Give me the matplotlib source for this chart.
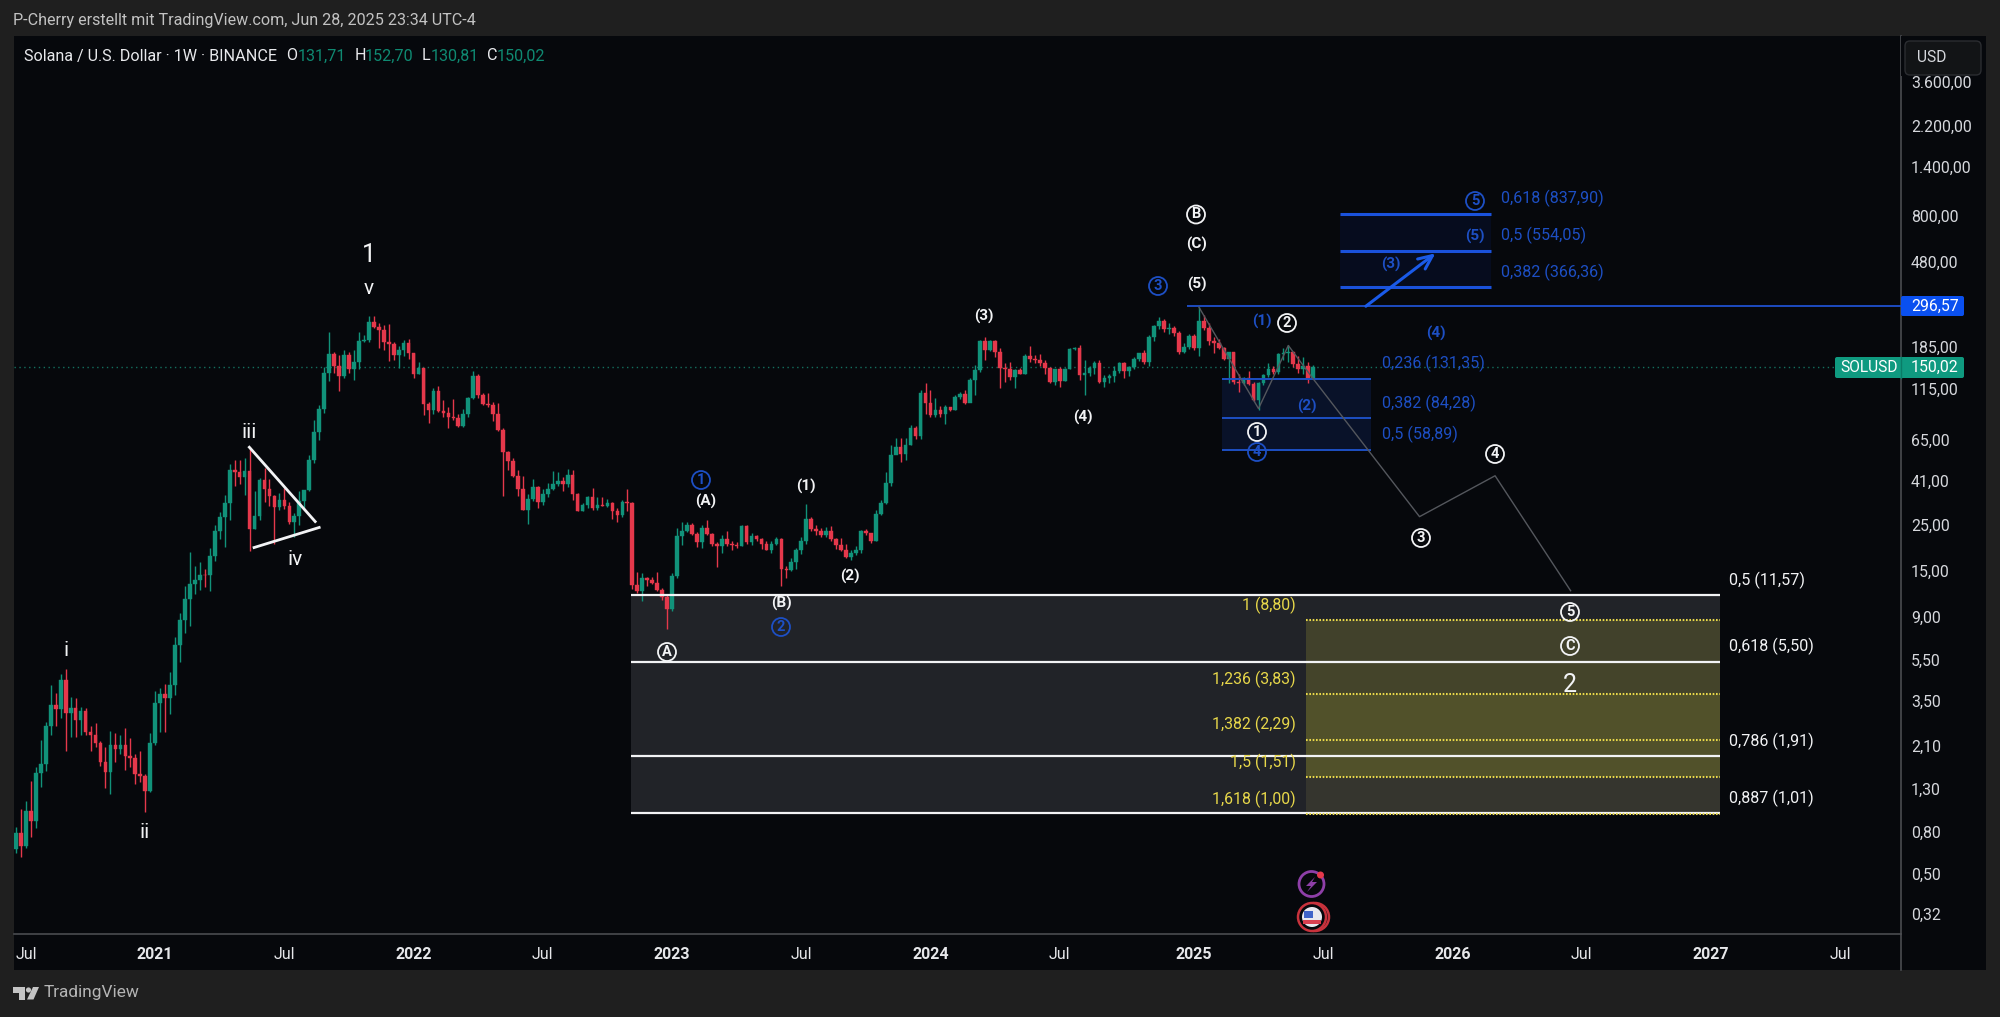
import numpy as np
import pandas as pd
import matplotlib
matplotlib.use("Agg")
import matplotlib.pyplot as plt
from matplotlib.patches import Circle, Rectangle, FancyBboxPatch, Polygon

plt.rcParams["font.family"] = "Roboto"
plt.rcParams["ytick.alignment"] = "center"

# weekly SOLUSD candles
first_week = "2020-06-22"
first_open = 0.671
close = [
    .807, .694, 1.03, .923, 1.58, 1.74, 2.68, 3.39, 3.25, 4.48,
    3.11, 3.28, 2.86, 3.18, 2.51, 2.43, 2.21, 1.78, 1.60, 2.16,
    2.06, 2.16, 1.91, 1.86, 1.57, 1.53, 1.29, 2.21, 3.47, 3.81,
    3.65, 4.26, 6.67, 8.76, 11.1, 13.2, 13.7, 14.6, 14.5, 18.1,
    23.8, 27.8, 32.5, 47.0, 46.2, 43.9, 46.6, 24.3, 28.3, 42.4,
    38.1, 35.2, 31.1, 33.8, 31.7, 26.4, 28.2, 33.5, 37.7, 53.1,
    72.5, 93.7, 140, 174, 152, 135, 172, 146, 158.6, 201,
    203, 249, 235, 227, 198, 194, 171, 182, 197, 175,
    138, 147.7, 99, 92.6, 115, 91.9, 89.7, 85.4, 84.3, 77,
    88.6, 106.5, 136, 109, 99, 98, 88.6, 74.3, 58, 52.4,
    44.3, 38, 30.1, 34, 39.2, 33.1, 36.3, 38.3, 40.6, 41.6,
    40.2, 44.5, 36, 29.8, 31.9, 34.8, 30.7, 31.9, 31.7, 32.8,
    29.8, 28.4, 33.1, 32.7, 13.0, 12.1, 14.0, 13.8, 13.3, 12.3,
    11.4, 9.9, 14.4, 22.6, 23.8, 25.4, 23, 21.1, 24.7, 23,
    20.6, 20.2, 21.8, 20.7, 20.3, 20.2, 25.2, 21.1, 22.5, 21.7,
    20.6, 19.3, 20.7, 21.8, 15.6, 15.4, 16.9, 19.3, 21.2, 27.4,
    24.4, 23.8, 22.8, 23.8, 21.7, 20.3, 19.2, 17.9, 18.7, 19.2,
    23.9, 23.2, 21.4, 28.8, 32.8, 40.9, 55.8, 61.5, 56.5, 62.4,
    75.3, 69.3, 111.6, 100.5, 87.5, 92.5, 89, 95.6, 93, 107.4,
    110.7, 100.5, 129.5, 144.6, 201.6, 181.4, 201.6, 178, 148.6, 147.5,
    134.3, 144.6, 139, 169, 164.6, 162.4, 157, 148.6, 127.3, 146,
    128, 146, 182.8, 185, 137, 140, 148.6, 157, 127.3, 132,
    135, 143.5, 157, 143.5, 150, 165, 174.7, 158, 210.6, 237,
    252, 231, 233, 220, 178, 188, 212, 185, 252, 233,
    201.6, 196, 186, 165, 178, 126.7, 126, 132, 124, 104,
    126, 137, 147.5, 142, 173, 176, 178, 156, 147.5, 152,
    131.71, 150.02,
]
high = [
    .861, 1.06, 1.16, 1.44, 1.69, 2.29, 2.80, 4.26, 3.86, 4.77,
    5.09, 3.70, 3.66, 3.32, 3.28, 2.68, 2.76, 2.26, 2.12, 2.53,
    2.47, 2.41, 2.61, 2.33, 1.95, 2.03, 1.57, 2.47, 3.94, 4.11,
    4.30, 4.88, 7.24, 9.46, 12.8, 18.8, 16.1, 16.9, 15.6, 19.6,
    25.4, 29.5, 35.8, 50.4, 53.1, 52.6, 53.8, 61, 37.4, 43.4,
    48.4, 42.9, 35.8, 36.6, 38.7, 32.9, 29.1, 37.4, 37.7, 56.1,
    82.5, 97.7, 150, 221, 178, 171, 182, 178, 182, 221,
    216, 266, 266, 246, 240, 244, 198, 190, 203, 205,
    176, 158, 148, 101.7, 119, 121, 104, 96, 105, 88.3,
    93.9, 107, 143, 138, 112, 112, 101.7, 100, 76, 58.6,
    53.8, 47.2, 44.3, 36.3, 42.9, 39.5, 38.3, 40.7, 46.9, 46.3,
    43.8, 48, 47.2, 36.5, 32.5, 35.4, 38.7, 35, 35, 34.3,
    33.1, 30.7, 33.7, 38.3, 33.1, 15, 14.9, 14.3, 14.3, 15,
    12.6, 11.6, 14.9, 24.7, 26.4, 26.4, 26, 23.6, 25.5, 26.9,
    23.3, 21, 22.8, 23.9, 21.2, 21.1, 25.5, 25.5, 23.3, 22.9,
    22, 21.2, 21.2, 22.2, 22, 16.1, 17.6, 19.8, 22.4, 32.2,
    28, 25.5, 24.7, 24.9, 25.2, 22, 22, 20.7, 19.2, 20.2,
    24.2, 24.4, 23.3, 30.1, 33.7, 46.3, 62.8, 67.4, 67.3, 67.3,
    78, 77, 115.8, 124.8, 115.8, 105.4, 97, 98, 96, 109,
    113, 115.8, 132, 153, 203, 209.7, 203, 203, 185, 157,
    158, 147, 149, 174, 190, 172, 174, 163, 150, 147,
    150, 148.6, 185, 188, 191, 162, 152, 161, 162, 137,
    139, 152, 159, 159, 152, 167, 176, 181, 215, 240,
    262, 256, 246, 237, 225, 196, 218, 218, 294, 268,
    245, 209, 205, 188, 178, 178, 139, 134, 143.5, 127,
    127, 139, 157, 152, 176, 185, 191, 178, 169, 167,
    158, 152.70,
]
low = [
    .643, .616, .68, .773, .85, 1.35, 1.62, 2.43, 2.68, 2.92,
    2.03, 2.36, 2.36, 2.41, 2.41, 2.03, 2.12, 1.71, 1.33, 1.25,
    1.78, 1.95, 1.63, 1.69, 1.39, 1.43, 1.02, 1.27, 2.16, 2.51,
    2.49, 3.05, 3.77, 5.5, 7.63, 8.2, 11.8, 12.3, 12.7, 12.1,
    17, 21.8, 19.9, 27.1, 39.4, 40.4, 35.8, 19, 24.3, 27.1,
    32.9, 31.4, 20.5, 30.1, 30.4, 25.8, 22.3, 25.4, 30.4, 37.4,
    50.9, 65.8, 89.8, 128, 141, 115, 132, 141, 130, 146,
    198, 198, 233, 186, 182, 160, 163, 148, 169, 164,
    132, 138, 87.5, 80.5, 89, 90.8, 85.9, 75.4, 83, 76.7,
    76.7, 86, 105, 106.5, 98, 95.5, 82, 73.2, 35.4, 47.2,
    43.8, 35.4, 30.1, 25.9, 33.4, 31, 31.9, 35, 37.7, 39.7,
    37.4, 39.2, 33.7, 29.8, 29.8, 30.7, 30.1, 30.1, 31.5, 31.3,
    27.4, 26.4, 28, 29.8, 12.4, 11.9, 10.9, 12.8, 13.2, 12.1,
    11, 7.9, 9.7, 14, 20.3, 23.6, 22.8, 19.9, 19.8, 22.8,
    20.2, 16, 18.7, 20.1, 19.3, 19.8, 20.1, 20.7, 20.3, 21.4,
    19.5, 19.2, 18.7, 20.3, 12.8, 14, 15.3, 15.5, 18.5, 20.7,
    23.8, 22.8, 22.2, 22.2, 21.4, 19.5, 19, 17.7, 17.2, 18.3,
    18.7, 22.8, 20.9, 21.4, 28.4, 32.2, 39.7, 57, 51.8, 53,
    62.4, 66.6, 66.6, 89, 85.9, 85.9, 85.9, 78.9, 91.8, 93,
    105, 99, 101.7, 109, 141.5, 162.4, 180, 167, 119, 127,
    130, 119, 138, 138, 158, 157, 152, 138, 126, 122,
    120, 128, 146, 181, 130, 109, 136, 139, 126, 120,
    124.8, 127, 141, 132, 135, 146, 161, 156, 152, 201.6,
    231, 222, 218, 212, 173, 175, 184, 181, 170, 228,
    191, 175, 184, 162, 126, 124, 113, 122, 122, 103,
    93, 122, 134, 139, 139, 162, 158, 150, 141, 139,
    126, 130.81,
]

# axis ticks
price_ticks = [3600, 2200, 1400, 800, 480, 185, 115, 65, 41, 25, 15, 9, 5.5, 3.5, 2.1, 1.3, .8, .5, .32]
time_dates = ["2020-07-06", "2021-01-04", "2021-07-05", "2022-01-03", "2022-07-04", "2023-01-02", "2023-07-03",
              "2024-01-01", "2024-07-01", "2025-01-06", "2025-07-07", "2026-01-05", "2026-07-06", "2027-01-04", "2027-07-05"]
time_labels = ["Jul", "2021", "Jul", "2022", "Jul", "2023", "Jul", "2024", "Jul", "2025", "Jul", "2026", "Jul", "2027", "Jul"]

# fib levels and drawings (week number, price)
white_levels = [11.57, 5.50, 1.91, 1.01]
yellow_levels = [8.80, 3.83, 2.29, 1.51, 1.00]
blue_up_levels = [837.90, 554.05, 366.36]
blue_down_levels = [131.35, 84.28, 58.89]
ath_level = 296.57
last_price = 150.02
path_weeks = [238, 250, 256, 261, 282.4, 297.6, 312.8]
path_prices = [294, 94.1, 191, 131.35, 28, 44.3, 12.2]
tri_top_weeks, tri_top_prices = [46.95, 60.2], [61, 26.5]
tri_low_weeks, tri_low_prices = [47.9, 61], [19.8, 24.8]

WHITE = "#f2f3f5"
BLUE = "#1d4fc4"
YELLOW = "#e8d84a"
GREEN = "#11927a"
RED = "#e5384b"
GRID_GREY = "#4a4c50"
BG = "#06080c"

PX_PER_WEEK = 4.97
FIRST_PX = 16

fig = plt.figure(figsize=(20, 10.17), dpi=100, facecolor="#1f1f1f")
fig.patches.append(Rectangle((14 / 2000, 1 - 970 / 1017), (1986 - 14) / 2000, (970 - 36) / 1017,
                             transform=fig.transFigure, fc=BG, ec="none", zorder=-5))

ax = fig.add_axes([14 / 2000, 1 - 934 / 1017, (1900.5 - 14) / 2000, (934 - 36) / 1017])
ax.set_facecolor(BG)
ax.set_yscale("log")
ax.set_xlim((14 - FIRST_PX) / PX_PER_WEEK, (1900.5 - FIRST_PX) / PX_PER_WEEK)
ax.set_ylim(0.2595, 6146)

# candles
close = np.array(close)
high = np.array(high)
low = np.array(low)
opn = np.r_[first_open, close[:-1]]
weeks = np.arange(len(close))
up = close >= opn
colors = np.where(up, GREEN, RED)
ax.vlines(weeks, low, high, colors=colors, lw=1.0, zorder=3)
ax.bar(weeks, np.abs(close - opn), bottom=np.minimum(close, opn), width=0.74, color=colors,
       edgecolor=colors, linewidth=0.3, zorder=3)

ax.axhline(last_price, color="#14705f", lw=1, ls=(0, (1, 2.5)), zorder=2)

# white fib box with the yellow one on top
wl, wr = 123.7, 342.9
yl = 259.5
ax.fill_between([wl, wr], white_levels[-1], white_levels[0], color="#212328", lw=0, zorder=1)
for top, bot, c in zip(yellow_levels[:-1], yellow_levels[1:], ["#41412b", "#51512a", "#51512a", "#35352e"]):
    ax.fill_between([yl, wr], bot, top, color=c, lw=0, zorder=1.5)
ax.fill_between([yl, wr], 3.83, 5.50, color="#44442a", lw=0, zorder=1.6)
ax.hlines(white_levels, wl, wr, color=WHITE, lw=1.6, zorder=4)
ax.hlines(yellow_levels, yl, wr, color=YELLOW, lw=1.5, ls=(0, (0.8, 0.8)), zorder=4)

# blue fib boxes
ul, ur = 266.4, 296.8
dl, dr = 242.7, 272.7
ax.fill_between([ul, ur], blue_up_levels[-1], blue_up_levels[0], color="#060c1e", lw=0, zorder=1)
ax.fill_between([dl, dr], blue_down_levels[-1], blue_down_levels[0], color="#091229", lw=0, zorder=1)
ax.hlines(blue_up_levels, ul, ur, color="#1a52dc", lw=2.2, zorder=4)
ax.hlines(blue_down_levels, dl, dr, color="#1d4fc4", lw=1.4, zorder=4)
ax.hlines(ath_level, 235.6, ax.get_xlim()[1], color="#1d4bc0", lw=1.4, zorder=4)
ax.annotate("", xy=(285.6, 537), xytext=(271.6, ath_level), zorder=5,
            arrowprops=dict(arrowstyle="->,head_length=1.0,head_width=0.45", color="#1a5ae8", lw=2.2,
                            shrinkA=0, shrinkB=0))

# projected path and triangle
ax.plot(path_weeks, path_prices, color="#54575d", lw=1.0, zorder=4)
ax.plot(tri_top_weeks, tri_top_prices, color=WHITE, lw=2.0, zorder=5)
ax.plot(tri_low_weeks, tri_low_prices, color=WHITE, lw=2.0, zorder=5)

# axes
start = pd.Timestamp(first_week)
time_ticks = [(pd.Timestamp(d) - start).days / 7 for d in time_dates]
ax.set_xticks(time_ticks)
ax.set_xticklabels(time_labels)
for lab in ax.get_xticklabels():
    if lab.get_text() != "Jul":
        lab.set_fontweight("bold")
ax.tick_params(axis="x", length=0, pad=9.5, colors="#e6e7ea", labelsize=11.5)
ax.minorticks_off()
ax.yaxis.tick_right()
ax.set_yticks(price_ticks)
ax.set_yticklabels([f"{v:,.2f}".replace(",", "X").replace(".", ",").replace("X", ".") for v in price_ticks])
ax.tick_params(axis="y", which="both", length=0, pad=7.5, colors="#d6d8dd", labelsize=11.4)
ax.yaxis.set_minor_locator(matplotlib.ticker.NullLocator())
for side in ["left", "top"]:
    ax.spines[side].set_visible(False)
for side in ["right", "bottom"]:
    ax.spines[side].set_color(GRID_GREY)
    ax.spines[side].set_linewidth(1.2)

# overlay in pixels for labels and tags
ov = fig.add_axes([0, 0, 1, 1], zorder=10)
ov.set_xlim(0, 2000)
ov.set_ylim(1017, 0)
ov.axis("off")
ov.plot([1900.5, 1900.5], [934, 970], color=GRID_GREY, lw=1.2)


def label(x, y, s, color=WHITE, size=10, ha="center", weight="normal"):
    ov.text(x, y, s, color=color, fontsize=size, ha=ha, va="center", fontweight=weight)


def circled(x, y, s, color=WHITE):
    ov.add_patch(Circle((x, y), 9, fc="none", ec=color, lw=1.3))
    ov.text(x, y, s, color=color, fontsize=10.5, ha="center", va="center", fontweight="bold")


label(13, 20, "P-Cherry erstellt mit TradingView.com, Jun 28, 2025 23:34 UTC-4", "#c2c2c2", 11.6, "left")
label(23.5, 56, "Solana / U.S. Dollar · 1W · BINANCE", "#e8e9ec", 11.6, "left")
for x, s in [(286.5, "O"), (354.5, "H"), (421.5, "L"), (487, "C")]:
    label(x, 56, s, "#e8e9ec", 11.6, "left")
for x, s in [(298, "131,71"), (365, "152,70"), (431, "130,81"), (497, "150,02")]:
    label(x, 56, s, "#0f8a72", 11.6, "left")

# wave labels
for x, y, s, sz in [(369, 255, "1", 18), (369, 289, "v", 15), (66, 651, "i", 15), (145, 833, "ii", 15),
                    (249, 432, "iii", 15), (295, 559.5, "iv", 15), (1570, 685, "2", 18)]:
    label(x, y, s, WHITE, sz)
for x, y, s in [(706, 501, "(A)"), (806, 486, "(1)"), (850, 576, "(2)"), (781, 603, "(B)"), (984, 316, "(3)"),
                (1083, 417, "(4)"), (1197, 284, "(5)"), (1197, 244, "(C)")]:
    label(x, y, s, WHITE, 11, weight="bold")
for x, y, s in [(1262, 321, "(1)"), (1307, 406, "(2)"), (1391, 264, "(3)"), (1475, 236, "(5)"), (1436, 333, "(4)")]:
    label(x, y, s, BLUE, 11, weight="bold")
for x, y, s in [(667, 652, "A"), (1196, 214.5, "B"), (1287, 323, "2"), (1257, 432, "1"), (1495, 454, "4"),
                (1421, 538, "3"), (1570, 612, "5"), (1570, 646, "C")]:
    circled(x, y, s)
for x, y, s in [(701, 480, "1"), (781, 627, "2"), (1158, 286, "3"), (1257, 452, "4"), (1475, 201, "5")]:
    circled(x, y, s, BLUE)

# fib labels
for y, s in [(198, "0,618 (837,90)"), (235, "0,5 (554,05)"), (272, "0,382 (366,36)")]:
    label(1501, y, s, BLUE, 11.6, "left")
for y, s in [(363, "0,236 (131,35)"), (403, "0,382 (84,28)"), (434, "0,5 (58,89)")]:
    label(1382, y, s, BLUE, 11.6, "left")
for y, s in [(580, "0,5 (11,57)"), (646, "0,618 (5,50)"), (741, "0,786 (1,91)"), (798, "0,887 (1,01)")]:
    label(1729, y, s, WHITE, 11.6, "left")
for y, s in [(605, "1 (8,80)"), (679, "1,236 (3,83)"), (724, "1,382 (2,29)"), (762, "1,5 (1,51)"), (799, "1,618 (1,00)")]:
    label(1296, y, s, YELLOW, 11.4, "right")

# price tags
ov.add_patch(FancyBboxPatch((1901, 296), 63, 20, boxstyle="round,pad=0,rounding_size=2", fc="#0a50f0", ec="none"))
label(1911, 306, "296,57", "#ffffff", 11.4, "left")
ov.add_patch(FancyBboxPatch((1835, 357), 129, 21, boxstyle="round,pad=0,rounding_size=2", fc="#0f9a80", ec="none"))
ov.plot([1900.5, 1900.5], [357, 378], color="#0a7c67", lw=1)
label(1840, 367.5, "SOLUSD", "#ffffff", 11.2, "left")
label(1911, 367.5, "150,02", "#ffffff", 11.4, "left")

# USD button
ov.add_patch(Rectangle((1901, 36), 85, 40, fc=BG, ec="none"))
ov.add_patch(FancyBboxPatch((1905, 41), 76, 34, boxstyle="round,pad=0,rounding_size=5", fc="#121416", ec="#2b2d31", lw=1))
label(1917, 57, "USD", "#d6d8dd", 11.2, "left")

# event icons
ov.add_patch(Circle((1311.5, 884), 12.5, fc="none", ec="#8e3fa8", lw=2))
ov.add_patch(Polygon([(1315, 877), (1306, 886), (1311, 886), (1307, 892), (1317, 882), (1312, 882)], fc="#8e3fa8", ec="none"))
ov.add_patch(Circle((1320.5, 875), 3.5, fc="#e5384b", ec="none"))
ov.add_patch(Circle((1315, 917), 14, fc="none", ec="#c8323c", lw=1.8))
ov.add_patch(Circle((1312, 917), 14, fc=BG, ec="#c8323c", lw=1.8))
ov.add_patch(Circle((1312, 917), 10, fc="#e8e8ee", ec="none"))
ov.add_patch(Rectangle((1303, 920), 18, 4, fc="#d94050", ec="none"))
ov.add_patch(Rectangle((1304, 911), 9, 7, fc="#3f63c8", ec="none"))

# TradingView logo
ov.add_patch(Polygon([(13, 987), (25, 987), (25, 999.5), (19, 999.5), (19, 992.5), (13, 992.5)], fc="#c4c4c4", ec="none"))
ov.add_patch(Circle((28.5, 990), 2.6, fc="#c4c4c4", ec="none"))
ov.add_patch(Polygon([(33, 987), (39, 987), (33.5, 999.5), (27, 999.5)], fc="#c4c4c4", ec="none"))
label(44, 993, "TradingView", "#b5b5b5", 12.4, "left")

fig.savefig("out.png", dpi=100, facecolor=fig.get_facecolor())
